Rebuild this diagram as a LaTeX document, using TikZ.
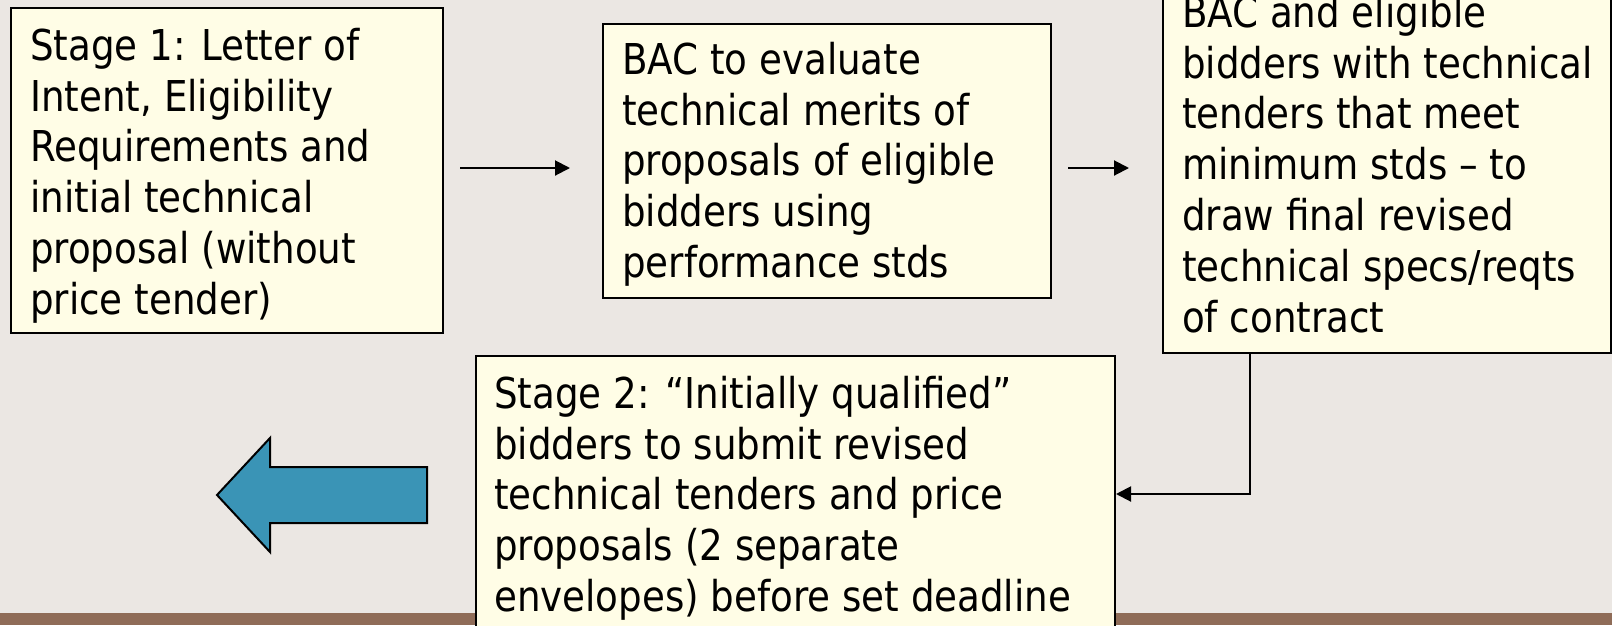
\documentclass[tikz,border=0pt]{standalone}
\usepackage{fontspec}
\setmainfont[FakeStretch=0.973]{DejaVu Sans Condensed}
\usetikzlibrary{arrows.meta}
\definecolor{bgc}{HTML}{EBE7E3}
\definecolor{boxfill}{HTML}{FFFDE6}
\definecolor{barbrown}{HTML}{8F6C58}
\definecolor{arrowblue}{HTML}{3A94B6}
\tikzset{
  stagebox/.style={rectangle, draw=black, line width=2pt, fill=boxfill, anchor=north west, inner sep=0pt},
  stagetext/.style={anchor=north west, inner sep=0pt, align=left, font=\fontsize{42.5}{50.8}\selectfont},
  flow/.style={line width=2pt, -{Triangle[length=15pt,width=15pt]}},
  bigarrow/.style={fill=arrowblue, draw=black, line width=2pt, line join=miter}
}
\begin{document}
\begin{tikzpicture}[x=1pt,y=-1pt]
\clip (0,0) rectangle (1612,625);
\fill[bgc] (0,0) rectangle (1612,625);
\fill[barbrown] (0,613) rectangle (1612,625);

% stage boxes
\node[stagebox, minimum width=432pt, minimum height=325pt] (b1) at (10,7) {};
\node[stagebox, minimum width=448pt, minimum height=274pt] (b2) at (602,23) {};
\node[stagebox, minimum width=448pt, minimum height=378pt] (b3) at (1162,-26) {};
\node[stagebox, minimum width=639pt, minimum height=276pt] (b4) at (475,355) {};

% box texts
\node[stagetext] (t1) at ([xshift=20pt,yshift=-13pt]b1.north west)
  {\rule{0pt}{40pt}Stage 1: Letter of\\Intent, Eligibility\\Requirements and\\initial technical\\proposal (without\\price tender)};
\node[stagetext] (t2) at ([xshift=20pt,yshift=-11pt]b2.north west)
  {\rule{0pt}{40pt}BAC to evaluate\\technical merits of\\proposals of eligible\\bidders using\\performance stds};
\node[stagetext] (t3) at ([xshift=20pt,yshift=-13pt]b3.north west)
  {\rule{0pt}{40pt}BAC and eligible\\bidders with technical\\tenders that meet\\minimum stds – to\\draw final revised\\technical specs/reqts\\of contract};
\node[stagetext] (t4) at ([xshift=19pt,yshift=-13pt]b4.north west)
  {\rule{0pt}{40pt}Stage 2: “Initially qualified”\\bidders to submit revised\\technical tenders and price\\proposals (2 separate\\envelopes) before set deadline};

% connectors
\draw[flow, shorten <=16pt, shorten >=32pt] ([yshift=2.5pt]b1.east) -- ([yshift=2.5pt]b1.east -| b2.west);
\draw[flow, shorten <=16pt, shorten >=33pt] ([yshift=-7pt]b2.east) -- ([yshift=-7pt]b2.east -| b3.west);
\draw[flow] ([xshift=88pt]b3.south west) |- (b4.east);

% block arrow pointing left
\draw[bigarrow] (217,495) -- (270,438) -- (270,467) -- (427,467) -- (427,523)
  -- (270,523) -- (270,552) -- cycle;
\end{tikzpicture}
\end{document}
